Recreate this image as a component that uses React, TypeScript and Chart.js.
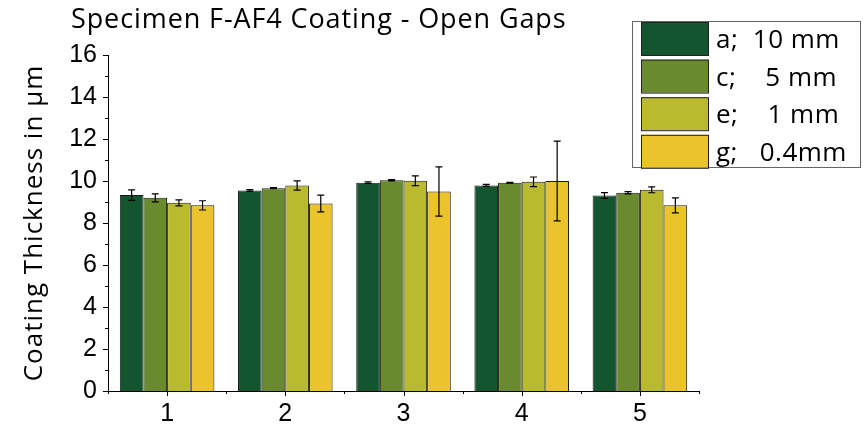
import { useEffect, useRef } from 'react';
import { Chart, registerables } from 'chart.js';

Chart.register(...registerables);

const categories = ['1', '2', '3', '4', '5'];
const seriesNames = ['a;  10 mm', 'c;    5 mm', 'e;    1 mm', 'g;   0.4mm'];
const seriesColors = ['#13552e', '#6a8a2e', '#b9ba2e', '#eac42a'];

const valuesA = [9.33, 9.55, 9.92, 9.79, 9.31];
const valuesC = [9.2, 9.66, 10.04, 9.92, 9.44];
const valuesE = [8.96, 9.79, 10.01, 9.96, 9.58];
const valuesG = [8.84, 8.93, 9.5, 10.0, 8.84];

const errA = [0.25, 0.04, 0.04, 0.05, 0.14];
const errC = [0.19, 0.03, 0.03, 0.02, 0.05];
const errE = [0.14, 0.22, 0.23, 0.23, 0.14];
const errG = [0.22, 0.4, 1.17, 1.9, 0.36];

const yMin = 0;
const yMax = 16;
const yStep = 2;

const titleText = 'Specimen F-AF4 Coating - Open Gaps';
const yTitleText = 'Coating Thickness in µm';

const allValues = [valuesA, valuesC, valuesE, valuesG];
const allErrors = [errA, errC, errE, errG];

const TEXT_FONT = '"Open Sans", "Noto Sans", sans-serif';
const TICK_FONT = '"Liberation Sans", Arial, sans-serif';

const customPlugin = {
  id: 'customDecor',
  afterDatasetsDraw(chart: any) {
    const ctx = chart.ctx;
    const ys = chart.scales.y;
    ctx.save();
    ctx.strokeStyle = '#000';
    ctx.lineWidth = 1.2;
    chart.data.datasets.forEach((ds: any, i: number) => {
      const meta = chart.getDatasetMeta(i);
      const errs = allErrors[i];
      meta.data.forEach((bar: any, j: number) => {
        const v = ds.data[j];
        const e = errs[j];
        const x = bar.x;
        const yt = ys.getPixelForValue(v + e);
        const yb = ys.getPixelForValue(v - e);
        const cw = 3.5;
        ctx.beginPath();
        ctx.moveTo(x, yt);
        ctx.lineTo(x, yb);
        ctx.moveTo(x - cw, yt);
        ctx.lineTo(x + cw, yt);
        ctx.moveTo(x - cw, yb);
        ctx.lineTo(x + cw, yb);
        ctx.stroke();
      });
    });
    ctx.restore();
  },
  afterDraw(chart: any) {
    const ctx = chart.ctx;
    const xs = chart.scales.x;
    const ys = chart.scales.y;
    const area = chart.chartArea;
    ctx.save();
    ctx.strokeStyle = '#000';
    ctx.lineWidth = 1;
    ctx.beginPath();
    for (let i = 0; i < categories.length; i++) {
      const x = Math.round(xs.getPixelForValue(i)) + 0.5;
      ctx.moveTo(x, area.bottom);
      ctx.lineTo(x, area.bottom + 5);
    }
    for (let i = 0; i <= categories.length; i++) {
      const x = Math.round(xs.getPixelForValue(i - 0.5)) + 0.5;
      ctx.moveTo(x, area.bottom);
      ctx.lineTo(x, area.bottom + 3);
    }
    for (let v = yMin; v <= yMax; v += yStep / 2) {
      const y = Math.round(ys.getPixelForValue(v)) + 0.5;
      const major = (v - yMin) % yStep === 0;
      ctx.moveTo(area.left, y);
      ctx.lineTo(area.left - (major ? 5 : 3), y);
    }
    ctx.stroke();

    // title
    ctx.fillStyle = '#000';
    ctx.font = `27px ${TEXT_FONT}`;
    (ctx as any).letterSpacing = '0.9px';
    ctx.textAlign = 'left';
    ctx.textBaseline = 'alphabetic';
    ctx.fillText(titleText, 71, 28);

    // y title
    ctx.save();
    ctx.translate(42, (area.top + area.bottom) / 2);
    ctx.rotate(-Math.PI / 2);
    ctx.textAlign = 'center';
    ctx.font = `26px ${TEXT_FONT}`;
    (ctx as any).letterSpacing = '1px';
    ctx.fillText(yTitleText, 0, 0);
    ctx.restore();

    // legend
    const bx = 632.5, by = 21.5, bw = 228, bh = 146;
    ctx.fillStyle = '#fff';
    ctx.fillRect(bx, by, bw, bh);
    ctx.strokeStyle = '#666';
    ctx.lineWidth = 1;
    ctx.strokeRect(bx, by, bw, bh);
    ctx.font = `26px ${TEXT_FONT}`;
    (ctx as any).letterSpacing = '0.5px';
    ctx.textBaseline = 'alphabetic';
    ctx.textAlign = 'left';
    seriesNames.forEach((name, i) => {
      const sy = 22 + i * 37.6;
      ctx.fillStyle = seriesColors[i];
      ctx.fillRect(641, sy, 67, 33);
      ctx.strokeStyle = '#222';
      ctx.strokeRect(641.5, sy + 0.5, 67, 33);
      ctx.fillStyle = '#000';
      ctx.fillText(name, 716, sy + 26);
    });
    ctx.restore();
  },
};

export default function App() {
  const canvasRef = useRef<HTMLCanvasElement | null>(null);

  useEffect(() => {
    document.body.style.margin = '0';
    const canvas = canvasRef.current;
    if (!canvas) return;
    const chart = new Chart(canvas, {
      type: 'bar',
      data: {
        labels: categories,
        datasets: seriesNames.map((name, i) => ({
          label: name,
          data: allValues[i],
          backgroundColor: seriesColors[i],
          borderColor: '#1a1a1a',
          borderWidth: 1,
          categoryPercentage: 0.8,
          barPercentage: 1.0,
        })),
      },
      options: {
        animation: false,
        responsive: false,
        maintainAspectRatio: false,
        layout: { padding: { top: 55, right: 165, left: 0, bottom: 0 } },
        plugins: {
          legend: { display: false },
          title: { display: false },
          tooltip: { enabled: false },
        },
        scales: {
          x: {
            grid: { display: false, drawTicks: false },
            border: { display: true, color: '#000', width: 1 },
            ticks: {
              color: '#000',
              font: { family: TICK_FONT, size: 25 },
              padding: 8,
              maxRotation: 0,
            },
            afterFit: (scale: any) => {
              scale.height = 36;
            },
          },
          y: {
            min: yMin,
            max: yMax,
            grid: { display: false, drawTicks: false },
            border: { display: true, color: '#000', width: 1 },
            ticks: {
              stepSize: yStep,
              color: '#000',
              font: { family: TICK_FONT, size: 25 },
              padding: 11,
            },
            afterFit: (scale: any) => {
              scale.width = 108;
            },
          },
        },
      },
      plugins: [customPlugin],
    });
    return () => chart.destroy();
  }, []);

  return (
    <div style={{ width: 864, height: 427, position: 'relative' }}>
      <canvas ref={canvasRef} width={864} height={427} style={{ display: 'block' }} />
    </div>
  );
}
